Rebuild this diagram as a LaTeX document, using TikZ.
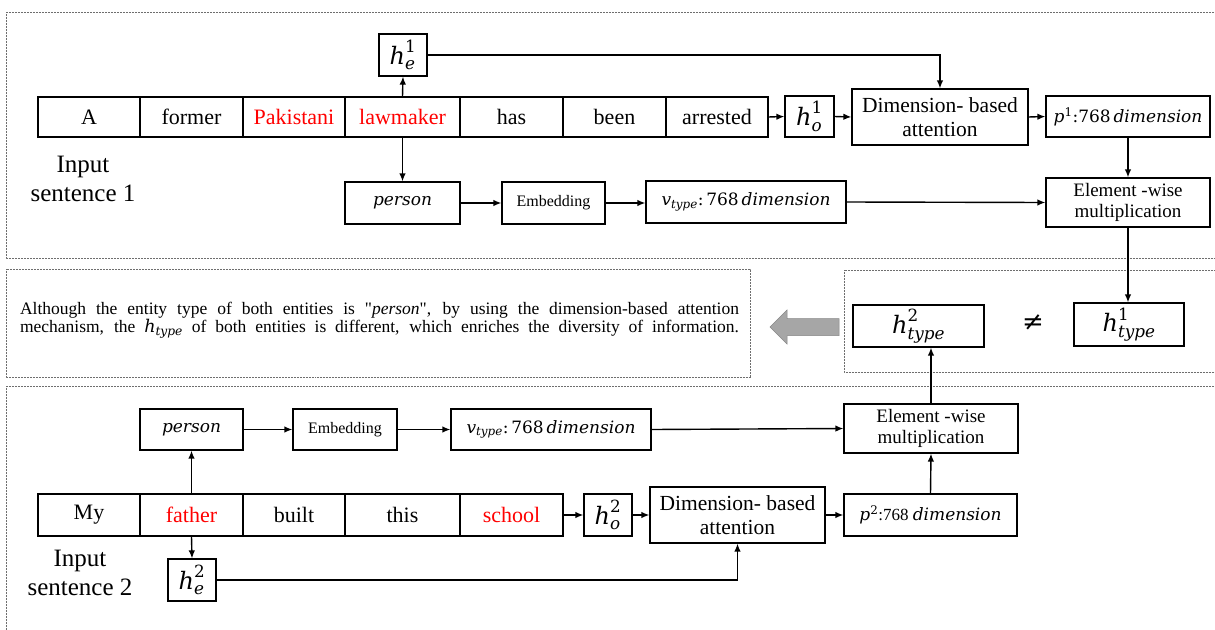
\RequirePackage{fix-cm}
\documentclass[tikz,border=0pt]{standalone}
\usepackage{amsmath}
\usepackage{fontspec}
\setmainfont{Liberation Serif}
\newfontfamily\mfont{DejaVu Serif}
\newfontface\qfont{Liberation Serif}
\newcommand\mv[1]{\text{\mfont\itshape #1}}
\newcommand\mn[1]{\text{\mfont #1}}
\usetikzlibrary{arrows.meta}
\definecolor{wordred}{RGB}{255,0,0}
\definecolor{framegray}{RGB}{110,110,110}
\definecolor{blockgray}{RGB}{166,166,166}
\begin{document}
\begin{tikzpicture}[x=1pt,y=-1pt,
  box/.style={draw, line width=1.2pt, inner sep=0pt, align=center},
  word/.style={box, minimum height=40pt, font=\fontsize{22}{25}\selectfont},
  mth/.style={font=\fontsize{17}{20}\selectfont},
  bigm/.style={font=\fontsize{24}{28}\selectfont},
  arr/.style={-{Latex[length=8pt,width=6.5pt]}, line width=1.4pt},
  frame/.style={draw=framegray, line width=0.9pt, dash pattern=on 0.9pt off 0.6pt},
  lbl/.style={align=center, font=\fontsize{25}{28.5}\selectfont}
]
\useasboundingbox (0,0) rectangle (1215,629);
\clip (0,0) rectangle (1215,629);

% ---------- frames ----------
\draw[frame] (6,12) rectangle (1222,258);
\draw[frame] (6,269) rectangle (750,377);
\draw[frame] (844,270) rectangle (1222,372);
\draw[frame] (6,386) rectangle (1222,650);

% ---------- sentence 1 ----------
\node[word, minimum width=102pt] (A) at (89,117) {A};
\node[word, minimum width=103pt] (former) at (191.5,117) {former};
\node[word, minimum width=102pt, text=wordred] (pak) at (294,117) {Pakistani};
\node[word, minimum width=115pt, text=wordred] (law) at (402.5,117) {lawmaker};
\node[word, minimum width=103pt] (has) at (511.5,117) {has};
\node[word, minimum width=103pt] (been) at (614.5,117) {been};
\node[word, minimum width=102pt] (arrested) at (717,117) {arrested};

\node[box, bigm, minimum width=48pt, minimum height=42pt] (he1) at (403,55) {$\mv{h}_{\mv{e}}^{\mn{1}}$};
\node[box, bigm, minimum width=49pt, minimum height=41pt] (ho1) at (809.5,116.5) {$\mv{h}_{\mv{o}}^{\mn{1}}$};
\node[box, minimum width=176pt, minimum height=56pt, font=\fontsize{21.5}{24}\selectfont] (dba1) at (940,117) {Dimension- based\\attention};
\node[box, mth, minimum width=164pt, minimum height=41pt] (p1) at (1128,116.5) {$\mv{p}^{\mn{1}}$\mn{:768}\,\mv{dimension}};

\node[box, mth, minimum width=115pt, minimum height=42pt] (person1) at (402.5,203) {\mv{person}};
\node[box, minimum width=103pt, minimum height=42pt, font=\fontsize{16}{19}\selectfont] (emb1) at (553.5,203) {Embedding};
\node[box, mth, minimum width=200pt, minimum height=42pt] (vt1) at (746,202) {$\mv{v}_{\mv{type}}$\mn{:\,768}\,\mv{dimension}};
\node[box, minimum width=164pt, minimum height=49pt, font=\fontsize{19}{21}\selectfont] (ew1) at (1128,202.5) {Element -wise\\multiplication};

\node[lbl] (in1) at (83,179) {Input\\sentence 1};

\draw[arr] (law.north) -- (he1.south);
\draw[arr] (law.south) -- (person1.north);
\draw[arr] (he1.east) -| (dba1.north);
\draw[arr] (arrested.east) -- (ho1.west);
\draw[arr] (ho1.east) -- (dba1.west);
\draw[arr] (dba1.east) -- (p1.west);
\draw[arr] (p1.south) -- (ew1.north);
\draw[arr] (person1.east) -- (emb1.west);
\draw[arr] (emb1.east) -- (emb1.east -| vt1.west);
\draw[arr] (vt1.east) -- (ew1.west);

% ---------- middle ----------
\node[inner sep=0pt] (note) at (379.5,320) {\parbox{719pt}{\fontsize{17.5}{18.5}\selectfont\parfillskip=0pt\relax
Although the entity type of both entities is {\qfont"}\textit{person}{\qfont"}, by using the dimension-based attention\linebreak
mechanism, the $\mv{h}_{\mv{type}}$ of both entities is different, which enriches the diversity of information.}};

\draw[draw=blockgray!80!black, line width=0.5pt, fill=blockgray]
  (770,327) -- (787,310) -- (787,318.5) -- (839,318.5) -- (839,335.5) -- (787,335.5) -- (787,344) -- cycle;

\node[box, bigm, minimum width=131pt, minimum height=42pt] (ht2) at (918.5,326) {$\mv{h}_{\mv{type}}^{\mn{2}}$};
\node[font=\fontsize{26}{28}\selectfont\mfont] (neq) at (1033,323) {≠};
\node[box, bigm, minimum width=110pt, minimum height=43pt] (ht1) at (1129,324.5) {$\mv{h}_{\mv{type}}^{\mn{1}}$};

\draw[arr] (ew1.south) -- (ew1.south |- ht1.north);

% ---------- sentence 2 ----------
\node[word, minimum width=102pt, minimum height=42pt] (my) at (89,515) {My};
\node[word, minimum width=103pt, minimum height=42pt, text=wordred] (father) at (191.5,515) {father};
\node[word, minimum width=102pt, minimum height=42pt] (built) at (294,515) {built};
\node[word, minimum width=115pt, minimum height=42pt] (this) at (402.5,515) {this};
\node[word, minimum width=103pt, minimum height=42pt, text=wordred] (school) at (511.5,515) {school};

\node[box, bigm, minimum width=48pt, minimum height=42pt] (ho2) at (608,515) {$\mv{h}_{\mv{o}}^{\mn{2}}$};
\node[box, minimum width=175pt, minimum height=56pt, font=\fontsize{21.5}{24}\selectfont] (dba2) at (737.5,515) {Dimension- based\\attention};
\node[box, mth, minimum width=173pt, minimum height=42pt] (p2) at (930.5,515) {$\mv{p}^{\mn{2}}$:768 \mv{dimension}};
\node[box, bigm, minimum width=48pt, minimum height=42pt] (he2) at (192,580) {$\mv{h}_{\mv{e}}^{\mn{2}}$};

\node[box, mth, minimum width=103pt, minimum height=41pt] (person2) at (191.5,429.5) {\mv{person}};
\node[box, minimum width=104pt, minimum height=41pt, font=\fontsize{16}{19}\selectfont] (emb2) at (345,429.5) {Embedding};
\node[box, mth, minimum width=200pt, minimum height=41pt] (vt2) at (551,429.5) {$\mv{v}_{\mv{type}}$\mn{:\,768}\,\mv{dimension}};
\node[box, minimum width=174pt, minimum height=49pt, font=\fontsize{19}{21}\selectfont] (ew2) at (931,428.5) {Element -wise\\multiplication};

\node[lbl] (in2) at (80,573) {Input\\sentence 2};

\draw[arr] (father.north) -- (person2.south);
\draw[arr] (father.south) -- (he2.north);
\draw[arr] (person2.east) -- (emb2.west);
\draw[arr] (emb2.east) -- (vt2.west);
\draw[arr] (vt2.east) -- (ew2.west);
\draw[arr] (school.east) -- (ho2.west);
\draw[arr] (ho2.east) -- (dba2.west);
\draw[arr] (dba2.east) -- (p2.west);
\draw[arr] (p2.north) -- (ew2.south);
\draw[arr] (he2.east) -| (dba2.south);
\draw[arr] (ew2.north) -- (ew2.north |- ht2.south);
\end{tikzpicture}
\end{document}
